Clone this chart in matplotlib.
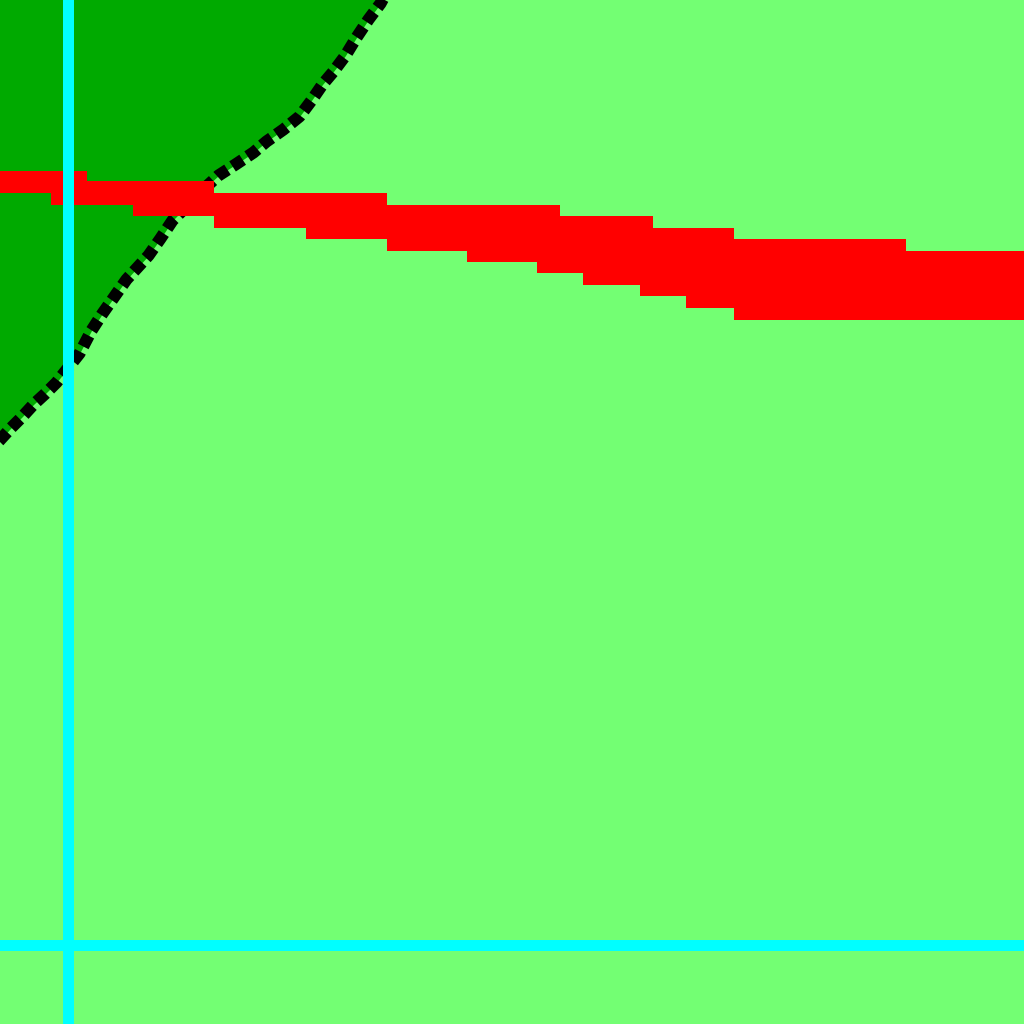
import matplotlib
matplotlib.use("Agg")
import matplotlib.pyplot as plt
import numpy as np

# Boundary curve (data units, origin at the cyan axes)
curve_x = [-80, -68, -57, -45, -34, -22, -11, 12, 24, 35, 47, 59, 70, 81, 93, 105,
           139, 151, 168, 186, 199, 216, 232, 244, 255, 266, 278, 289, 301, 313, 319]
curve_y = [492, 504, 516, 528, 540, 551, 562, 591, 614, 631, 648, 665, 677, 689, 706, 724,
           758, 769, 780, 792, 803, 815, 828, 844, 860, 873, 889, 907, 925, 941, 952]

# Red band: upper and lower step edges
upper_x = [-68, 19, 146, 319, 492, 585, 666, 838]
upper_y = [774, 764, 752, 740, 729, 717, 706, 694]
lower_x = [-68, -17, 65, 146, 238, 319, 399, 469, 515, 572, 618, 666]
lower_y = [752, 740, 729, 717, 706, 694, 683, 672, 660, 649, 637, 625]

XLIM = (-67.5, 956.5)
YLIM = (-79.5, 944.5)

LIGHT = "#73ff73"
DARK = "#00aa00"
RED = "#ff0000"
CYAN = "#00ffff"


def stairs(xs, ys, xend):
    px, py = [], []
    for i, (x, y) in enumerate(zip(xs, ys)):
        nx = xs[i + 1] if i + 1 < len(xs) else xend
        px += [x, nx]
        py += [y, y]
    return px, py


fig = plt.figure(figsize=(10.24, 10.24), dpi=100)
fig.patch.set_facecolor(LIGHT)
ax = fig.add_axes([0, 0, 1, 1])
ax.set_facecolor(LIGHT)
for s in ax.spines.values():
    s.set_visible(False)
ax.set_xticks([])
ax.set_yticks([])
ax.set_xlim(*XLIM)
ax.set_ylim(*YLIM)

# dark green region left of the curve
ax.fill_betweenx(curve_y, -200, curve_x, color=DARK, lw=0, zorder=1)
ax.fill_between([-200, 400], [952, 952], [1100, 1100], color=DARK, lw=0, zorder=1)

# black dotted boundary
px_w = 11 * 72 / 100
ax.plot(curve_x, curve_y, color="black", lw=px_w * 1.1, dashes=(1.0, 0.5),
        solid_capstyle="butt", dash_capstyle="butt", zorder=2)

# red band
ux, uy = stairs(upper_x, upper_y, 1000)
lx, ly = stairs(lower_x, lower_y, 1000)
poly_x = ux + lx[::-1]
poly_y = uy + ly[::-1]
ax.fill(poly_x, poly_y, color=RED, lw=0, zorder=3)

# cyan axes
ax.axhline(0, color=CYAN, lw=px_w, zorder=4)
ax.axvline(0, color=CYAN, lw=px_w, zorder=4)

fig.savefig("out.png", dpi=100, facecolor=LIGHT)
